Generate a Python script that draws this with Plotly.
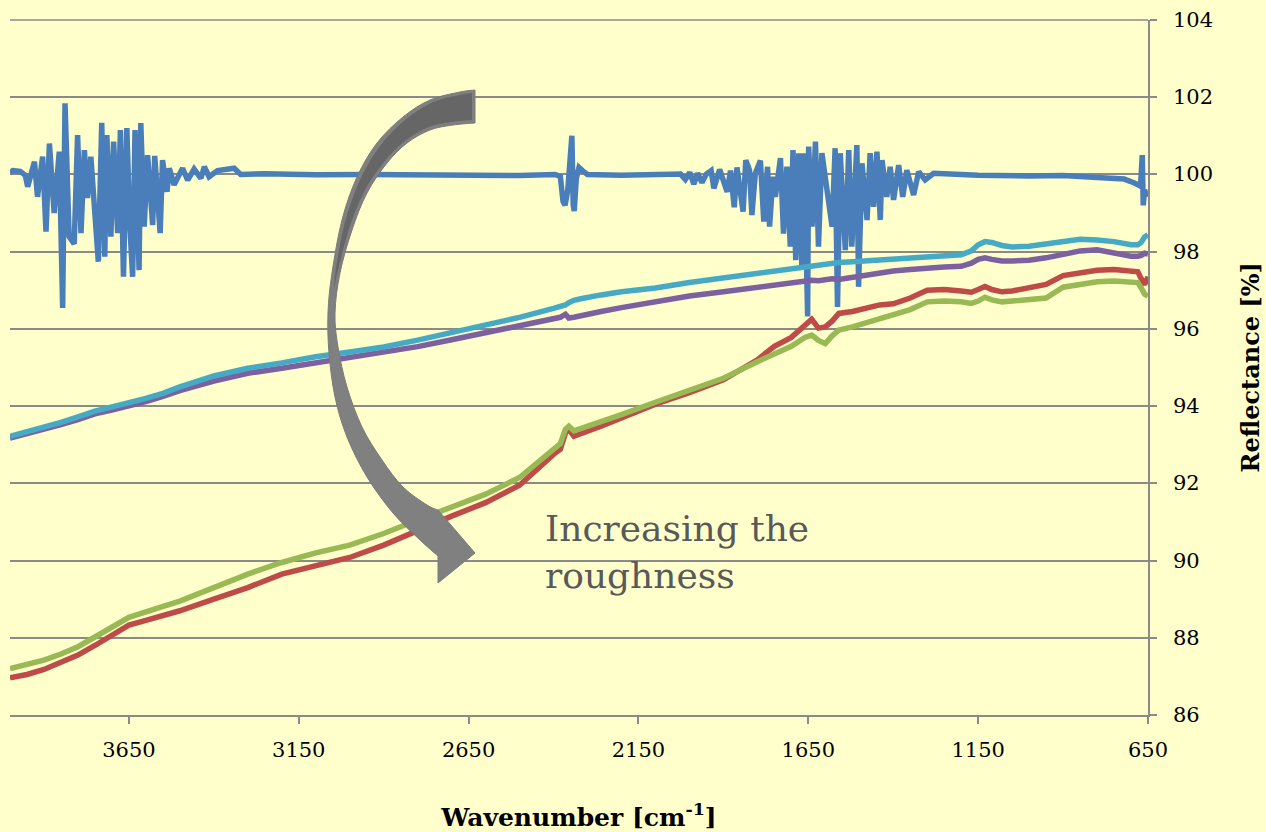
import plotly.graph_objects as go

# ---------------- data ----------------
blue_w = [4000, 3992, 3970, 3955, 3948, 3928, 3919, 3904, 3894, 3884, 3870, 3855, 3845, 3838, 3826, 3811,
          3801, 3791, 3781, 3772, 3762, 3752, 3740, 3730, 3721, 3715, 3703, 3695, 3683, 3675, 3666, 3656,
          3648, 3639, 3632, 3620, 3615, 3605, 3595, 3580, 3574, 3558, 3551, 3538, 3531, 3517, 3492, 3477,
          3458, 3438, 3428, 3414, 3389, 3340, 3321, 3250, 3100, 2950, 2800, 2650, 2500, 2395, 2380, 2372,
          2366, 2358, 2350, 2346, 2342, 2339, 2333, 2325, 2315, 2300, 2200, 2100, 2040,
          2026, 2012, 1999, 1987, 1976, 1963, 1950, 1936, 1928, 1911, 1889, 1879, 1868, 1860, 1842, 1834,
          1823, 1816, 1806, 1791, 1781, 1770, 1764, 1754, 1747, 1732, 1723, 1713, 1703, 1695, 1687, 1678,
          1669, 1662, 1652, 1649, 1639, 1629, 1620, 1610, 1595, 1580, 1571, 1564, 1556, 1541, 1531, 1522,
          1507, 1502, 1492, 1477, 1468, 1458, 1448, 1438, 1433, 1419, 1409, 1399, 1384, 1372, 1360, 1340,
          1325, 1306, 1281, 1242, 1150, 1000, 900, 800, 720, 690, 672, 667, 664, 660, 655, 650]
blue_v = [100.05, 100.1, 100.08, 99.98, 99.68, 100.33, 99.42, 100.46, 98.52, 100.8, 99.0, 100.59, 96.54, 101.84, 98.39, 98.2,
          101.02, 98.48, 100.63, 99.39, 100.46, 99.03, 97.74, 101.34, 97.87, 101.02, 98.39, 100.85, 98.48, 101.15, 97.35, 101.2,
          98.82, 97.35, 101.15, 97.52, 101.33, 98.65, 100.5, 98.69, 100.48, 98.48, 100.37, 99.55, 100.16, 99.73, 100.16, 99.85,
          100.14, 99.9, 100.2, 99.94, 100.1, 100.16, 100.0, 100.02, 99.99, 100.0, 99.98, 99.99, 99.97, 100.0, 99.95, 99.3,
          99.2, 99.6, 100.9, 101.0, 99.2, 99.05, 99.9, 100.18, 100.1, 100.0, 99.98, 99.99, 100.0,
          100.01, 99.87, 100.05, 99.75, 100.03, 99.79, 100.01, 100.10, 99.64, 100.13, 99.55, 100.10, 99.15, 100.18, 99.04, 100.37,
          100.11, 98.95, 100.03, 100.36, 98.78, 100.20, 98.65, 99.94, 99.42, 100.42, 98.47, 100.20, 98.13, 100.63, 97.78, 100.55,
          97.61, 100.55, 96.32, 100.72, 98.65, 100.85, 98.13, 100.55, 99.68, 98.65, 100.68, 96.57, 100.55, 98.04, 100.63, 98.13,
          100.76, 97.09, 100.29, 98.82, 100.55, 99.16, 100.59, 98.82, 100.37, 99.42, 100.20, 99.34, 100.24, 99.42, 100.11, 99.47,
          100.07, 99.86, 100.03, 100.01, 99.98, 99.96, 99.97, 99.92, 99.88, 99.78, 99.7, 100.5, 99.2, 99.6, 99.45, 99.55]

wavenumber = [4000, 3950, 3900, 3850, 3800, 3750, 3700, 3650, 3600, 3550, 3500, 3400, 3300, 3200, 3100, 3000,
              2900, 2800, 2700, 2600, 2500, 2400, 2380, 2365, 2355, 2340, 2320, 2300, 2260, 2200, 2100, 2000,
              1900, 1800, 1750, 1700, 1660, 1640, 1620, 1600, 1580, 1560, 1520, 1480, 1440, 1400, 1350, 1300,
              1250, 1200, 1170, 1150, 1130, 1110, 1080, 1050, 1000, 950, 900, 850, 800, 750, 700, 680,
              670, 660, 650]

red_v = [86.96, 87.05, 87.18, 87.35, 87.55, 87.8, 88.07, 88.33, 88.45, 88.58, 88.7, 89.0, 89.3, 89.65, 89.88, 90.08,
         90.4, 90.79, 91.15, 91.5, 91.95, 92.75, 92.88, 93.3, 93.4, 93.22, 93.3, 93.35, 93.48, 93.7, 94.05, 94.35,
         94.68, 95.2, 95.55, 95.78, 96.1, 96.25, 96.02, 96.05, 96.2, 96.4, 96.45, 96.55, 96.62, 96.65, 96.8, 97.0,
         97.02, 96.98, 96.95, 97.02, 97.1, 97.02, 96.96, 96.98, 97.05, 97.15, 97.38, 97.45, 97.52, 97.54, 97.52, 97.48,
         97.3, 97.15, 97.35]

green_v = [87.2, 87.3, 87.42, 87.58, 87.77, 88.02, 88.28, 88.53, 88.67, 88.8, 88.95, 89.3, 89.65, 89.95, 90.2, 90.4,
           90.7, 91.05, 91.38, 91.72, 92.15, 92.92, 93.03, 93.4, 93.48, 93.36, 93.42, 93.45, 93.58, 93.78, 94.1, 94.4,
           94.72, 95.15, 95.35, 95.55, 95.78, 95.84, 95.7, 95.62, 95.82, 95.97, 96.05, 96.15, 96.25, 96.35, 96.5, 96.7,
           96.72, 96.7, 96.66, 96.72, 96.82, 96.75, 96.7, 96.72, 96.75, 96.8, 97.08, 97.15, 97.22, 97.24, 97.22, 97.2,
           97.06, 96.9, 96.85]

purple_v = [93.17, 93.28, 93.38, 93.52, 93.65, 93.8, 93.9, 94.0, 94.12, 94.25, 94.4, 94.65, 94.85, 94.98, 95.12, 95.25,
            95.38, 95.54, 95.72, 95.9, 96.08, 96.26, 96.3, 96.38, 96.28, 96.3, 96.33, 96.38, 96.45, 96.55, 96.7, 96.85,
            96.96, 97.08, 97.14, 97.18, 97.24, 97.26, 97.25, 97.28, 97.3, 97.28, 97.34, 97.4, 97.46, 97.5, 97.54, 97.58,
            97.6, 97.62, 97.7, 97.8, 97.84, 97.8, 97.76, 97.76, 97.78, 97.84, 97.92, 98.02, 98.05, 97.96, 97.88, 97.88,
            97.9, 97.96, 97.94]

cyan_v = [93.22, 93.33, 93.45, 93.58, 93.72, 93.87, 93.98, 94.08, 94.2, 94.33, 94.5, 94.78, 94.98, 95.12, 95.28, 95.4,
          95.53, 95.71, 95.9, 96.08, 96.3, 96.53, 96.58, 96.62, 96.68, 96.74, 96.78, 96.82, 96.88, 96.96, 97.06, 97.2,
          97.32, 97.43, 97.5, 97.56, 97.62, 97.65, 97.67, 97.7, 97.7, 97.72, 97.74, 97.76, 97.78, 97.8, 97.82, 97.86,
          97.88, 97.92, 98.02, 98.18, 98.26, 98.24, 98.16, 98.12, 98.14, 98.2, 98.26, 98.32, 98.3, 98.26, 98.18, 98.18,
          98.24, 98.38, 98.44]

x_ticks = [3650, 3150, 2650, 2150, 1650, 1150, 650]
y_ticks = [86, 88, 90, 92, 94, 96, 98, 100, 102, 104]

# ---------------- figure ----------------
W, H = 1266, 832
ML, MR, MT, MB = 10, 118, 20, 117
PW, PH = W - ML - MR, H - MT - MB

FONT = "Georgia, 'DejaVu Serif', serif"
GRID = "#8a8a8a"
BG = "#FFFFCC"

fig = go.Figure()
series = [
    (blue_w, blue_v, "#4A7EBB"),
    (wavenumber, red_v, "#BE4B48"),
    (wavenumber, green_v, "#98B954"),
    (wavenumber, purple_v, "#7D60A0"),
    (wavenumber, cyan_v, "#46AAC5"),
]
for xs, ys, col in series:
    fig.add_trace(go.Scatter(x=xs, y=ys, mode="lines",
                             line=dict(color=col, width=5.5, shape="linear"),
                             showlegend=False, hoverinfo="skip"))


def px(x, y):
    return (x - ML) / PW, (H - MB - y) / PH


def smooth(points):
    """Catmull-Rom curve through pixel points -> list of cubic bezier segments (pixel coords)."""
    segs = []
    n = len(points)
    for i in range(n - 1):
        p0 = points[i - 1] if i > 0 else points[i]
        p1 = points[i]
        p2 = points[i + 1]
        p3 = points[i + 2] if i + 2 < n else points[i + 1]
        c1 = (p1[0] + (p2[0] - p0[0]) / 6, p1[1] + (p2[1] - p0[1]) / 6)
        c2 = (p2[0] - (p3[0] - p1[0]) / 6, p2[1] - (p3[1] - p1[1]) / 6)
        segs.append((c1, c2, p2))
    return segs


def fmt(pt):
    u, v = px(*pt)
    return f"{u:.5f},{v:.5f}"


def build_path(parts):
    """parts: list of ('curve', pts) or ('line', pts)."""
    s = ""
    first = True
    for kind, pts in parts:
        if first:
            s += "M" + fmt(pts[0]) + " "
            first = False
        else:
            s += "L" + fmt(pts[0]) + " "
        if kind == "curve":
            for c1, c2, p in smooth(pts):
                s += "C" + fmt(c1) + " " + fmt(c2) + " " + fmt(p) + " "
        else:
            for p in pts[1:]:
                s += "L" + fmt(p) + " "
    return s + "Z"


outer_edge = [(475, 90), (460, 92), (430, 100), (403, 117), (377, 143), (357, 177), (342, 220),
              (332, 273), (328, 313), (329, 353), (335, 397), (347, 437), (367, 477), (393, 513),
              (420, 540), (438, 556)]
head = [(438, 556), (438, 583), (475, 553), (438, 510)]
inner_edge = [(438, 510), (427, 505), (403, 487), (382, 460), (362, 427), (347, 387), (338, 347),
              (335, 313), (340, 273), (352, 230), (367, 193), (387, 163), (407, 143), (430, 130),
              (453, 125), (475, 123)]

dark_outer = [(472, 93), (459, 95), (431, 103), (405, 120), (380, 146), (360, 180), (345, 222), (336, 268),
              (334, 290)]
dark_inner = [(334, 290), (338, 270), (349, 229), (364, 192), (384, 162), (405, 141), (429, 127),
              (452, 122), (472, 120)]

fig.add_shape(type="path", xref="paper", yref="paper",
              path=build_path([("curve", outer_edge), ("line", head), ("curve", inner_edge)]),
              fillcolor="#808080", line=dict(color="#7a7a7a", width=1), layer="above")
fig.add_shape(type="path", xref="paper", yref="paper",
              path=build_path([("curve", dark_outer), ("curve", dark_inner)]),
              fillcolor="#666666", line=dict(color="#666666", width=0), layer="above")

# top gridline at 104 (edge of the plotting area)
fig.add_shape(type="line", xref="paper", yref="paper", x0=0, x1=1, y0=1, y1=1,
              line=dict(color=GRID, width=1.5), layer="below")

ax, ay = px(543, 506)
fig.add_annotation(xref="paper", yref="paper", x=ax, y=ay, xanchor="left", yanchor="top",
                   align="left", showarrow=False, text="Increasing the<br>roughness",
                   font=dict(family=FONT, size=36, color="#595959"))

# right-hand y tick labels and title, placed on the y scale
lab_x, _ = px(1171, 0)
for t in y_ticks:
    fig.add_annotation(xref="paper", yref="y", x=lab_x, y=t, xanchor="left", yanchor="middle",
                       showarrow=False, text=str(t),
                       font=dict(family=FONT, size=21, color="#000000"))
tit_x, _ = px(1250, 0)
fig.add_annotation(xref="paper", yref="paper", x=tit_x, y=0.5, xanchor="center", yanchor="middle",
                   showarrow=False, textangle=-90, text="<b>Reflectance [%]</b>",
                   font=dict(family=FONT, size=24, color="#000000"))

fig.update_layout(
    width=W, height=H,
    margin=dict(l=ML, r=MR, t=MT, b=MB, autoexpand=False),
    paper_bgcolor=BG, plot_bgcolor=BG,
    font=dict(family=FONT, color="#000000"),
    xaxis=dict(range=[4000, 650], autorange=False, tickvals=x_ticks,
               ticktext=[str(t) for t in x_ticks], automargin=False,
               ticks="outside", ticklen=7, tickwidth=1.5, tickcolor=GRID,
               showline=True, linecolor=GRID, linewidth=1.5,
               showgrid=False, zeroline=False,
               tickfont=dict(family=FONT, size=21, color="#000000"),
               ticklabelstandoff=8,
               title=dict(text="<b>Wavenumber [cm<sup>-1</sup>]</b>", standoff=49,
                          font=dict(family=FONT, size=25, color="#000000"))),
    yaxis=dict(range=[86, 104], autorange=False, side="right", tickvals=y_ticks,
               automargin=False, showticklabels=False,
               ticks="outside", ticklen=7, tickwidth=1.5, tickcolor=GRID,
               showline=True, linecolor=GRID, linewidth=1.5,
               showgrid=True, gridcolor=GRID, gridwidth=1.5, zeroline=False),
)

fig.write_html("out.html")
